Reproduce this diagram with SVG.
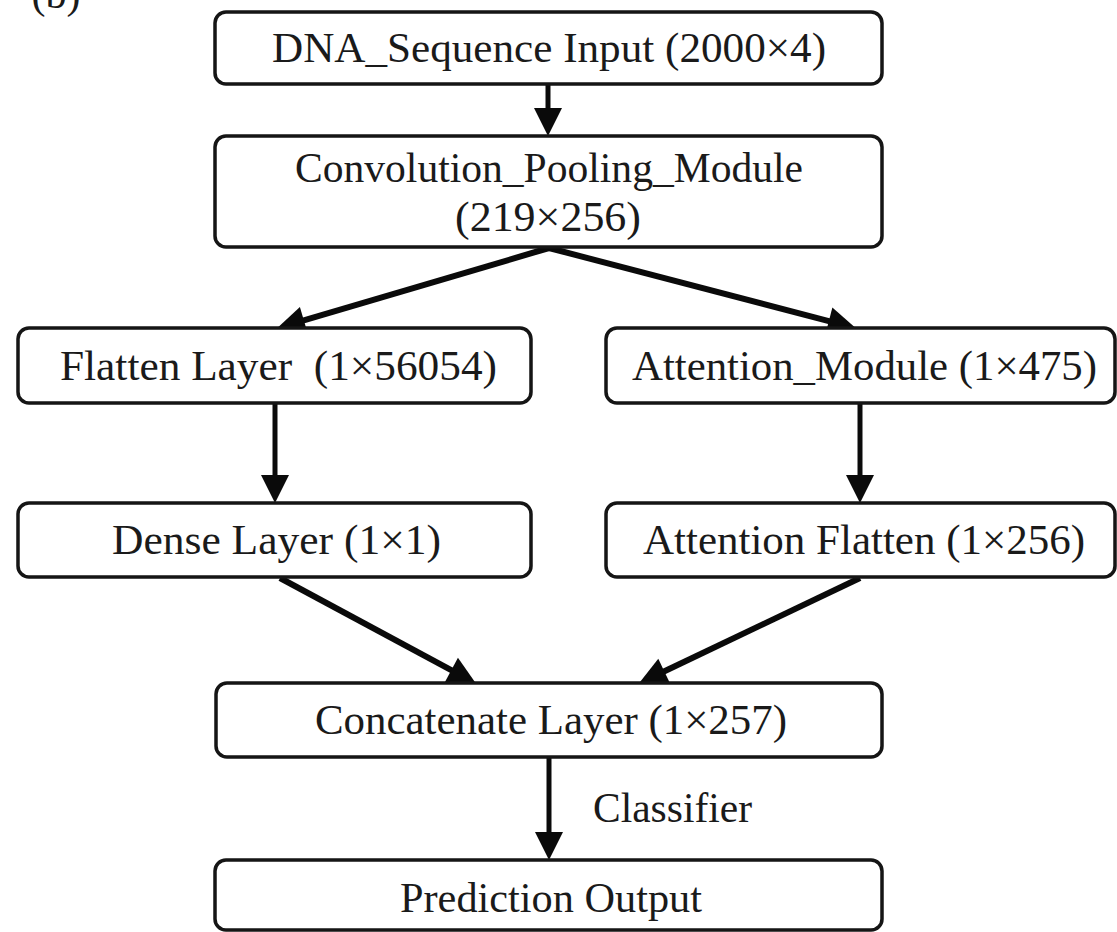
<svg xmlns="http://www.w3.org/2000/svg" width="1117" height="932" viewBox="0 0 1117 932">
  <defs>
    <style>
      .box { fill: #ffffff; stroke: #151515; stroke-width: 3.5; }
      .lbl { font-family: "Liberation Serif", "Times New Roman", serif; font-size: 42px; fill: #1a1a1a; text-anchor: middle; white-space: pre; }
      .edge { stroke: #0a0a0a; stroke-width: 5; fill: none; }
      .diag { stroke-width: 6; }
    </style>
    <marker id="ah" markerUnits="userSpaceOnUse" viewBox="0 -14 27 28" refX="0" refY="0" markerWidth="27" markerHeight="28" orient="auto" overflow="visible">
      <path d="M-1,-14 L27,0 L-1,14 Z" fill="#0a0a0a"/>
    </marker>
  </defs>
  <rect width="1117" height="932" fill="#ffffff"/>

  <text class="lbl" x="56" y="8" font-size="40">(b)</text>

  <g id="connectors">
    <line class="edge" x1="548" y1="85" x2="548" y2="109" marker-end="url(#ah)"/>
    <line class="edge diag" x1="549" y1="248" x2="302.9" y2="320.6" marker-end="url(#ah)"/>
    <line class="edge diag" x1="549" y1="248" x2="829.8" y2="321.4" marker-end="url(#ah)"/>
    <line class="edge" x1="275" y1="404" x2="275" y2="476" marker-end="url(#ah)"/>
    <line class="edge" x1="860" y1="404" x2="860" y2="476" marker-end="url(#ah)"/>
    <line class="edge diag" x1="280" y1="578" x2="452.2" y2="670.6" marker-end="url(#ah)"/>
    <line class="edge diag" x1="860" y1="578" x2="663.4" y2="671.7" marker-end="url(#ah)"/>
    <line class="edge" x1="549" y1="758" x2="549" y2="833" marker-end="url(#ah)"/>
    <text class="lbl" x="593" y="822" style="text-anchor:start" textLength="159" lengthAdjust="spacingAndGlyphs">Classifier</text>
  </g>

  <g id="n_input">
    <rect class="box" x="215" y="12" width="667" height="72" rx="11"/>
    <text class="lbl" x="549" y="62" textLength="554" lengthAdjust="spacingAndGlyphs">DNA_Sequence Input (2000×4)</text>
  </g>
  <g id="n_conv">
    <rect class="box" x="215" y="136" width="667" height="111" rx="11"/>
    <text class="lbl" x="549" y="182" textLength="508" lengthAdjust="spacingAndGlyphs">Convolution_Pooling_Module</text>
    <text class="lbl" x="548" y="231" textLength="186" lengthAdjust="spacingAndGlyphs">(219×256)</text>
  </g>
  <g id="n_flatten">
    <rect class="box" x="18" y="328" width="513" height="75" rx="11"/>
    <text class="lbl" x="278.5" y="380" textLength="437" lengthAdjust="spacingAndGlyphs">Flatten Layer  (1×56054)</text>
  </g>
  <g id="n_attention">
    <rect class="box" x="606" y="328" width="509" height="75" rx="11"/>
    <text class="lbl" x="864.5" y="380" textLength="465" lengthAdjust="spacingAndGlyphs">Attention_Module (1×475)</text>
  </g>
  <g id="n_dense">
    <rect class="box" x="18" y="503" width="513" height="74" rx="11"/>
    <text class="lbl" x="276.5" y="554" textLength="329" lengthAdjust="spacingAndGlyphs">Dense Layer (1×1)</text>
  </g>
  <g id="n_attflatten">
    <rect class="box" x="606" y="503" width="509" height="74" rx="11"/>
    <text class="lbl" x="864" y="554" textLength="442" lengthAdjust="spacingAndGlyphs">Attention Flatten (1×256)</text>
  </g>
  <g id="n_concat">
    <rect class="box" x="216" y="683" width="666" height="74" rx="11"/>
    <text class="lbl" x="551" y="734" textLength="472" lengthAdjust="spacingAndGlyphs">Concatenate Layer (1×257)</text>
  </g>
  <g id="n_output">
    <rect class="box" x="215" y="860" width="667" height="70" rx="11"/>
    <text class="lbl" x="551" y="912" textLength="302" lengthAdjust="spacingAndGlyphs">Prediction Output</text>
  </g>
</svg>
